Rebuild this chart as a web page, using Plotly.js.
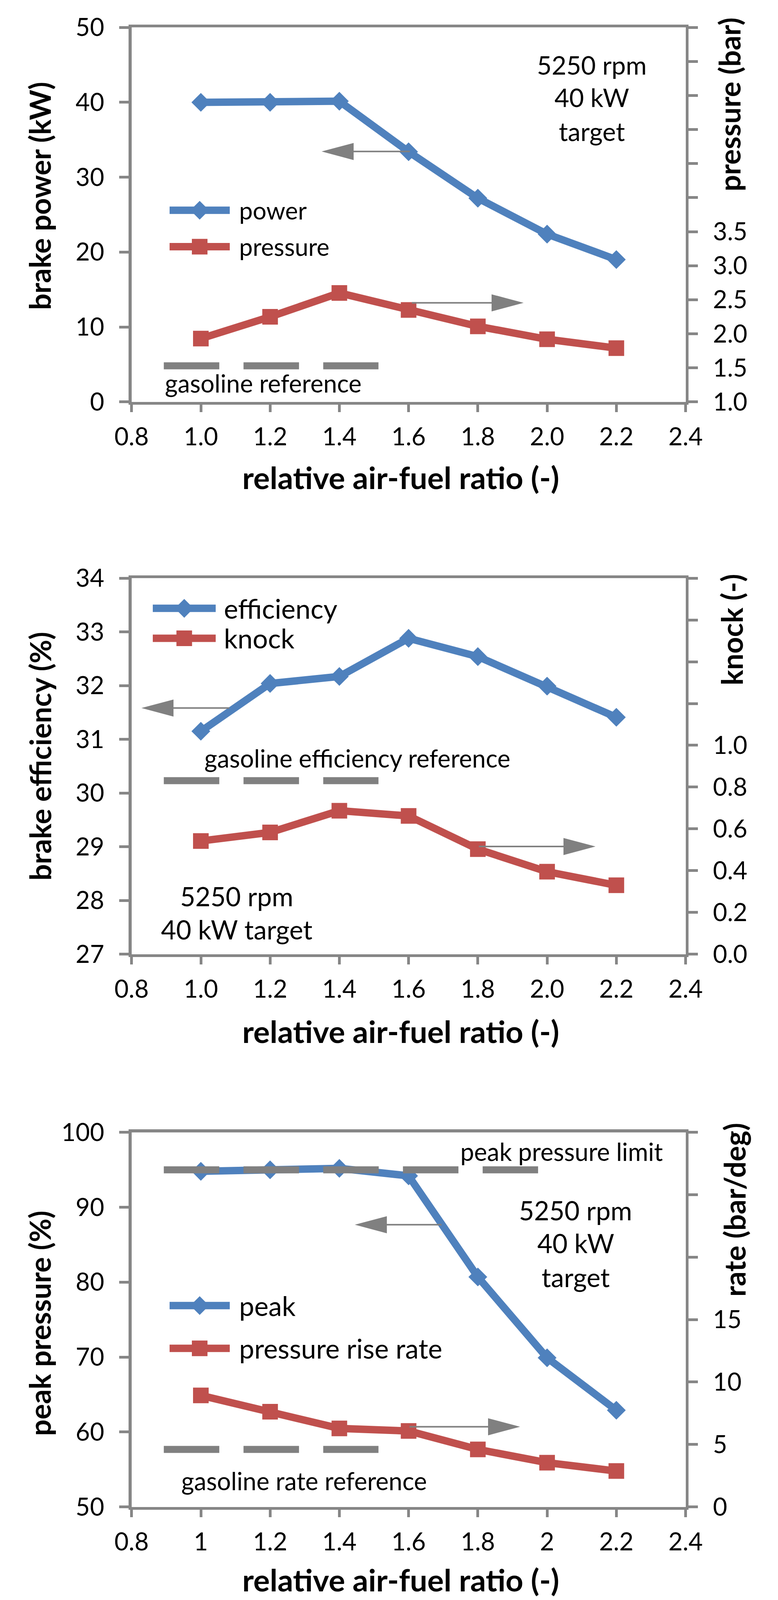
<!DOCTYPE html>
<html>
<head>
<meta charset="utf-8">
<script src="https://cdn.plot.ly/plotly-3.0.1.min.js"></script>
<style>
html,body{margin:0;padding:0;background:#fff;overflow:hidden;}
#chart{width:1991px;height:4402px;}
</style>
</head>
<body>
<div id="chart"></div>
<script>
// ---------------- DATA ----------------
const lambdaValues = [1.0, 1.2, 1.4, 1.6, 1.8, 2.0, 2.2];
const brakePower = [40.0, 40.0, 40.15, 33.4, 27.2, 22.4, 19.0];        // kW
const intakePressure = [1.93, 2.25, 2.60, 2.35, 2.11, 1.92, 1.79];      // bar
const brakeEfficiency = [31.15, 32.04, 32.17, 32.88, 32.54, 31.99, 31.41]; // %
const knockIndex = [0.542, 0.583, 0.687, 0.662, 0.503, 0.395, 0.33];   // -
const peakPressure = [94.8, 95.0, 95.2, 94.2, 80.7, 69.9, 62.9];       // %
const pressureRiseRate = [8.93, 7.62, 6.28, 6.08, 4.60, 3.54, 2.87];    // bar/deg

const gasolinePressureRef = 1.53;
const gasolineEfficiencyRef = 30.23;
const peakPressureLimit = 95.0;
const gasolineRateRef = 4.6;
const refShortX = [0.893, 1.513];
const refLongX = [0.893, 1.974];

const xTickVals = [0.8, 1.0, 1.2, 1.4, 1.6, 1.8, 2.0, 2.2, 2.4];
const xTickTextA = ['0.8', '1.0', '1.2', '1.4', '1.6', '1.8', '2.0', '2.2', '2.4'];
const xTickTextB = ['0.8', '1', '1.2', '1.4', '1.6', '1.8', '2', '2.2', '2.4'];

const powerTicks = [0, 10, 20, 30, 40, 50];
const pressureTickVals = [1.0, 1.5, 2.0, 2.5, 3.0, 3.5, 4.0, 4.5, 5.0, 5.5, 6.0, 6.5];
const pressureTickText = ['1.0', '1.5', '2.0', '2.5', '3.0', '3.5', '', '', '', '', '', ''];
const effTicks = [27, 28, 29, 30, 31, 32, 33, 34];
const knockTickVals = [0, 0.2, 0.4, 0.6, 0.8, 1.0, 1.2, 1.4, 1.6, 1.8];
const knockTickText = ['0.0', '0.2', '0.4', '0.6', '0.8', '1.0', '', '', '', ''];
const peakTicks = [50, 60, 70, 80, 90, 100];
const rateTickVals = [0, 5, 10, 15, 20, 25, 30];
const rateTickText = ['0', '5', '10', '15', '', '', ''];

// ---------------- LAYOUT GEOMETRY (reference pixels) ----------------
const W = 1991, H = 4402;
const VH = window.innerHeight || H;
const FIG_W = W;
const FIG_H = (VH > 500 && VH < H) ? VH : H;
const SY = FIG_H / H;
document.getElementById('chart').style.height = FIG_H + 'px';

const PLOT_L = 336.8, PLOT_R = 1754.5;
const X_RANGE = [0.8, 2.4];
const frames = [
  {top: 75.5, bottom: 1105.7},
  {top: 1590.7, bottom: 2625.3},
  {top: 3115.5, bottom: 4145.7}
];
const leftRanges = [[0, 50], [27, 34], [50, 100]];
const rightRanges = [[1.0, 6.5], [0, 1.8], [0, 30]];

const BLUE = '#4F81BD', RED = '#C0504D', GRAY = '#808080', AXIS = '#868686';
const FONT = 'Lato, "Open Sans", sans-serif';
const TXT = 63, TITLE = 79;

function px2x(p) { return X_RANGE[0] + (p - PLOT_L) / (PLOT_R - PLOT_L) * (X_RANGE[1] - X_RANGE[0]); }
function py2y(i, p, right) {
  const r = right ? rightRanges[i] : leftRanges[i];
  const f = frames[i];
  return r[1] - (p - f.top) / (f.bottom - f.top) * (r[1] - r[0]);
}
function paperX(p) { return p / W; }
function paperY(p) { return 1 - p / H; }
function domY(i) { return [paperY(frames[i].bottom), paperY(frames[i].top)]; }

const axisCommon = {
  showline: true, linecolor: AXIS, linewidth: 7.5,
  ticks: 'outside', tickcolor: AXIS, tickwidth: 7,
  showgrid: false, zeroline: false, tickmode: 'array',
  tickfont: {family: FONT, size: TXT, color: '#000'},
  fixedrange: true
};

function xAxis(anchor, text) {
  return Object.assign({}, axisCommon, {
    domain: [PLOT_L / W, PLOT_R / W], range: X_RANGE, anchor: anchor,
    tickvals: xTickVals, ticktext: text, ticklen: Math.round(20 * SY), mirror: true,
    ticklabelstandoff: Math.max(0, Math.round(95 * SY) - 79)
  });
}
function yLeft(i, anchor, vals, text) {
  return Object.assign({}, axisCommon, {
    domain: domY(i), range: leftRanges[i], anchor: anchor,
    tickvals: vals, ticktext: text, ticklen: 24, side: 'left',
    ticklabelstandoff: 26
  });
}
function yRight(i, anchor, over, vals, text) {
  return Object.assign({}, axisCommon, {
    range: rightRanges[i], anchor: anchor, overlaying: over, side: 'right',
    tickvals: vals, ticktext: text, ticklen: 24,
    ticklabelstandoff: 26
  });
}

// ---------------- TRACES ----------------
function series(x, y, xa, ya, color, symbol, size) {
  return {x: x, y: y, xaxis: xa, yaxis: ya, type: 'scatter', mode: 'lines+markers',
    line: {color: color, width: 19}, marker: {symbol: symbol, size: size, color: color, opacity: 1},
    showlegend: false, hoverinfo: 'skip'};
}
function refLine(xs, val, xa, ya) {
  return {x: xs, y: [val, val], xaxis: xa, yaxis: ya, type: 'scatter', mode: 'lines',
    line: {color: GRAY, width: 18, dash: '142px,62px'}, showlegend: false, hoverinfo: 'skip'};
}
function legendItem(i, xa, ya, rowPx, xL, xR, color, symbol, size) {
  const yv = py2y(i, rowPx, false);
  return [
    {x: [px2x(xL), px2x(xR)], y: [yv, yv], xaxis: xa, yaxis: ya,
      type: 'scatter', mode: 'lines', line: {color: color, width: 19},
      showlegend: false, hoverinfo: 'skip'},
    {x: [px2x((xL + xR) / 2)], y: [yv], xaxis: xa, yaxis: ya,
      type: 'scatter', mode: 'markers', marker: {symbol: symbol, size: size, color: color, opacity: 1},
      showlegend: false, hoverinfo: 'skip'}
  ];
}

const DIA = 37, SQ = 40;
const traces = [].concat(
  // chart 1: power / pressure
  [series(lambdaValues, brakePower, 'x', 'y', BLUE, 'diamond', DIA),
   refLine(refShortX, gasolinePressureRef, 'x', 'y2'),
   series(lambdaValues, intakePressure, 'x', 'y2', RED, 'square', SQ)],
  legendItem(0, 'x', 'y', 578.5, 434, 588, BLUE, 'diamond', DIA),
  legendItem(0, 'x', 'y', 678.6, 434, 588, RED, 'square', SQ),
  // chart 2: efficiency / knock
  [series(lambdaValues, brakeEfficiency, 'x2', 'y3', BLUE, 'diamond', DIA),
   refLine(refShortX, gasolineEfficiencyRef, 'x2', 'y3'),
   series(lambdaValues, knockIndex, 'x2', 'y4', RED, 'square', SQ)],
  legendItem(1, 'x2', 'y3', 1673.7, 391, 552, BLUE, 'diamond', DIA),
  legendItem(1, 'x2', 'y3', 1756, 391, 552, RED, 'square', SQ),
  // chart 3: peak pressure / rise rate
  [series(lambdaValues, peakPressure, 'x3', 'y5', BLUE, 'diamond', DIA),
   refLine(refLongX, peakPressureLimit, 'x3', 'y5'),
   series(lambdaValues, pressureRiseRate, 'x3', 'y6', RED, 'square', SQ),
   refLine(refShortX, gasolineRateRef, 'x3', 'y6')],
  legendItem(2, 'x3', 'y5', 3591.9, 434, 588, BLUE, 'diamond', DIA),
  legendItem(2, 'x3', 'y5', 3709.7, 434, 588, RED, 'square', SQ)
);

// ---------------- ANNOTATIONS ----------------
function txt(text, xp, yp, size, opts) {
  return Object.assign({text: text, x: paperX(xp), y: paperY(yp), xref: 'paper', yref: 'paper',
    showarrow: false, xanchor: 'center', yanchor: 'middle',
    font: {family: FONT, size: size || TXT, color: '#000'}}, opts || {});
}
function title(text, xp, yp, rot) {
  return txt(text, xp, yp, TXT, {textangle: rot ? -90 : 0,
    font: {family: FONT, size: rot ? Math.round(TITLE * SY) : TITLE, color: '#000', weight: 700}});
}
const LEFT = {xanchor: 'left'};
const annotations = [
  title('brake power (kW)', 102, 539, true),
  title('pressure (bar)', 1867, 288, true),
  title('relative air-fuel ratio (-)', 1025, 1313, false),
  title('brake efficiency (%)', 102, 2081, true),
  title('knock (-)', 1873, 1733, true),
  title('relative air-fuel ratio (-)', 1025, 2837, false),
  title('peak pressure (%)', 102, 3641, true),
  title('rate (bar/deg)', 1880, 3329, true),
  title('relative air-fuel ratio (-)', 1025, 4346, false),
  // chart 1
  txt('5250 rpm', 1514, 178, 65), txt('40 kW', 1514, 268, 65), txt('target', 1514, 361, 65),
  txt('gasoline reference', 673, 1054, 63),
  txt('power', 610, 578.5, 62, LEFT),
  txt('pressure', 610, 678.6, 62, LEFT),
  // chart 2
  txt('gasoline efficiency reference', 914.5, 2085, 63),
  txt('5250 rpm', 606, 2465, 67), txt('40 kW target', 606, 2557, 67),
  txt('efficiency', 570.7, 1673.7, 69, LEFT),
  txt('knock', 570.7, 1756, 69, LEFT),
  // chart 3
  txt('peak pressure limit', 1437, 3168, 63),
  txt('5250 rpm', 1473, 3329, 67), txt('40 kW', 1473, 3420, 67), txt('target', 1473, 3513, 67),
  txt('gasoline rate reference', 778, 4074, 63),
  txt('peak', 610, 3591.9, 69, LEFT),
  txt('pressure rise rate', 610, 3709.7, 69, LEFT)
];

// ---------------- ARROWS (which axis a series belongs to) ----------------
const HEAD_L = 82, HEAD_W = 23.5 * SY;
function arrow(tailPx, tipPx, yPx) {
  const dir = tipPx < tailPx ? 1 : -1;
  return [
    {type: 'line', xref: 'paper', yref: 'paper', x0: paperX(tailPx), x1: paperX(tipPx + dir * HEAD_L * 0.5),
      y0: paperY(yPx), y1: paperY(yPx), line: {color: GRAY, width: 4}},
    {type: 'path', xref: 'paper', yref: 'paper', xsizemode: 'pixel', ysizemode: 'pixel',
      xanchor: paperX(tipPx), yanchor: paperY(yPx),
      path: 'M0,0 L' + (dir * HEAD_L) + ',' + HEAD_W + ' L' + (dir * HEAD_L) + ',' + (-HEAD_W) + ' Z',
      fillcolor: GRAY, line: {width: 0}}
  ];
}
const shapes = [].concat(
  arrow(1049, 823, 416.8),
  arrow(1054, 1340, 833.2),
  arrow(587, 362, 1948),
  arrow(1225.5, 1524, 2329),
  arrow(1130, 908, 3369.6),
  arrow(1048, 1331, 3925.4)
);

const layout = {
  width: FIG_W, height: FIG_H,
  margin: {l: 0, r: 0, t: 0, b: 0, pad: 0},
  paper_bgcolor: '#fff', plot_bgcolor: 'rgba(0,0,0,0)',
  showlegend: false,
  font: {family: FONT, size: TXT, color: '#000'},
  xaxis: xAxis('y', xTickTextA),
  yaxis: yLeft(0, 'x', powerTicks, powerTicks.map(String)),
  yaxis2: yRight(0, 'x', 'y', pressureTickVals, pressureTickText),
  xaxis2: xAxis('y3', xTickTextA),
  yaxis3: yLeft(1, 'x2', effTicks, effTicks.map(String)),
  yaxis4: yRight(1, 'x2', 'y3', knockTickVals, knockTickText),
  xaxis3: xAxis('y5', xTickTextB),
  yaxis5: yLeft(2, 'x3', peakTicks, peakTicks.map(String)),
  yaxis6: yRight(2, 'x3', 'y5', rateTickVals, rateTickText),
  annotations: annotations,
  shapes: shapes
};

Plotly.newPlot('chart', traces, layout, {staticPlot: true, displayModeBar: false});
</script>
</body>
</html>
